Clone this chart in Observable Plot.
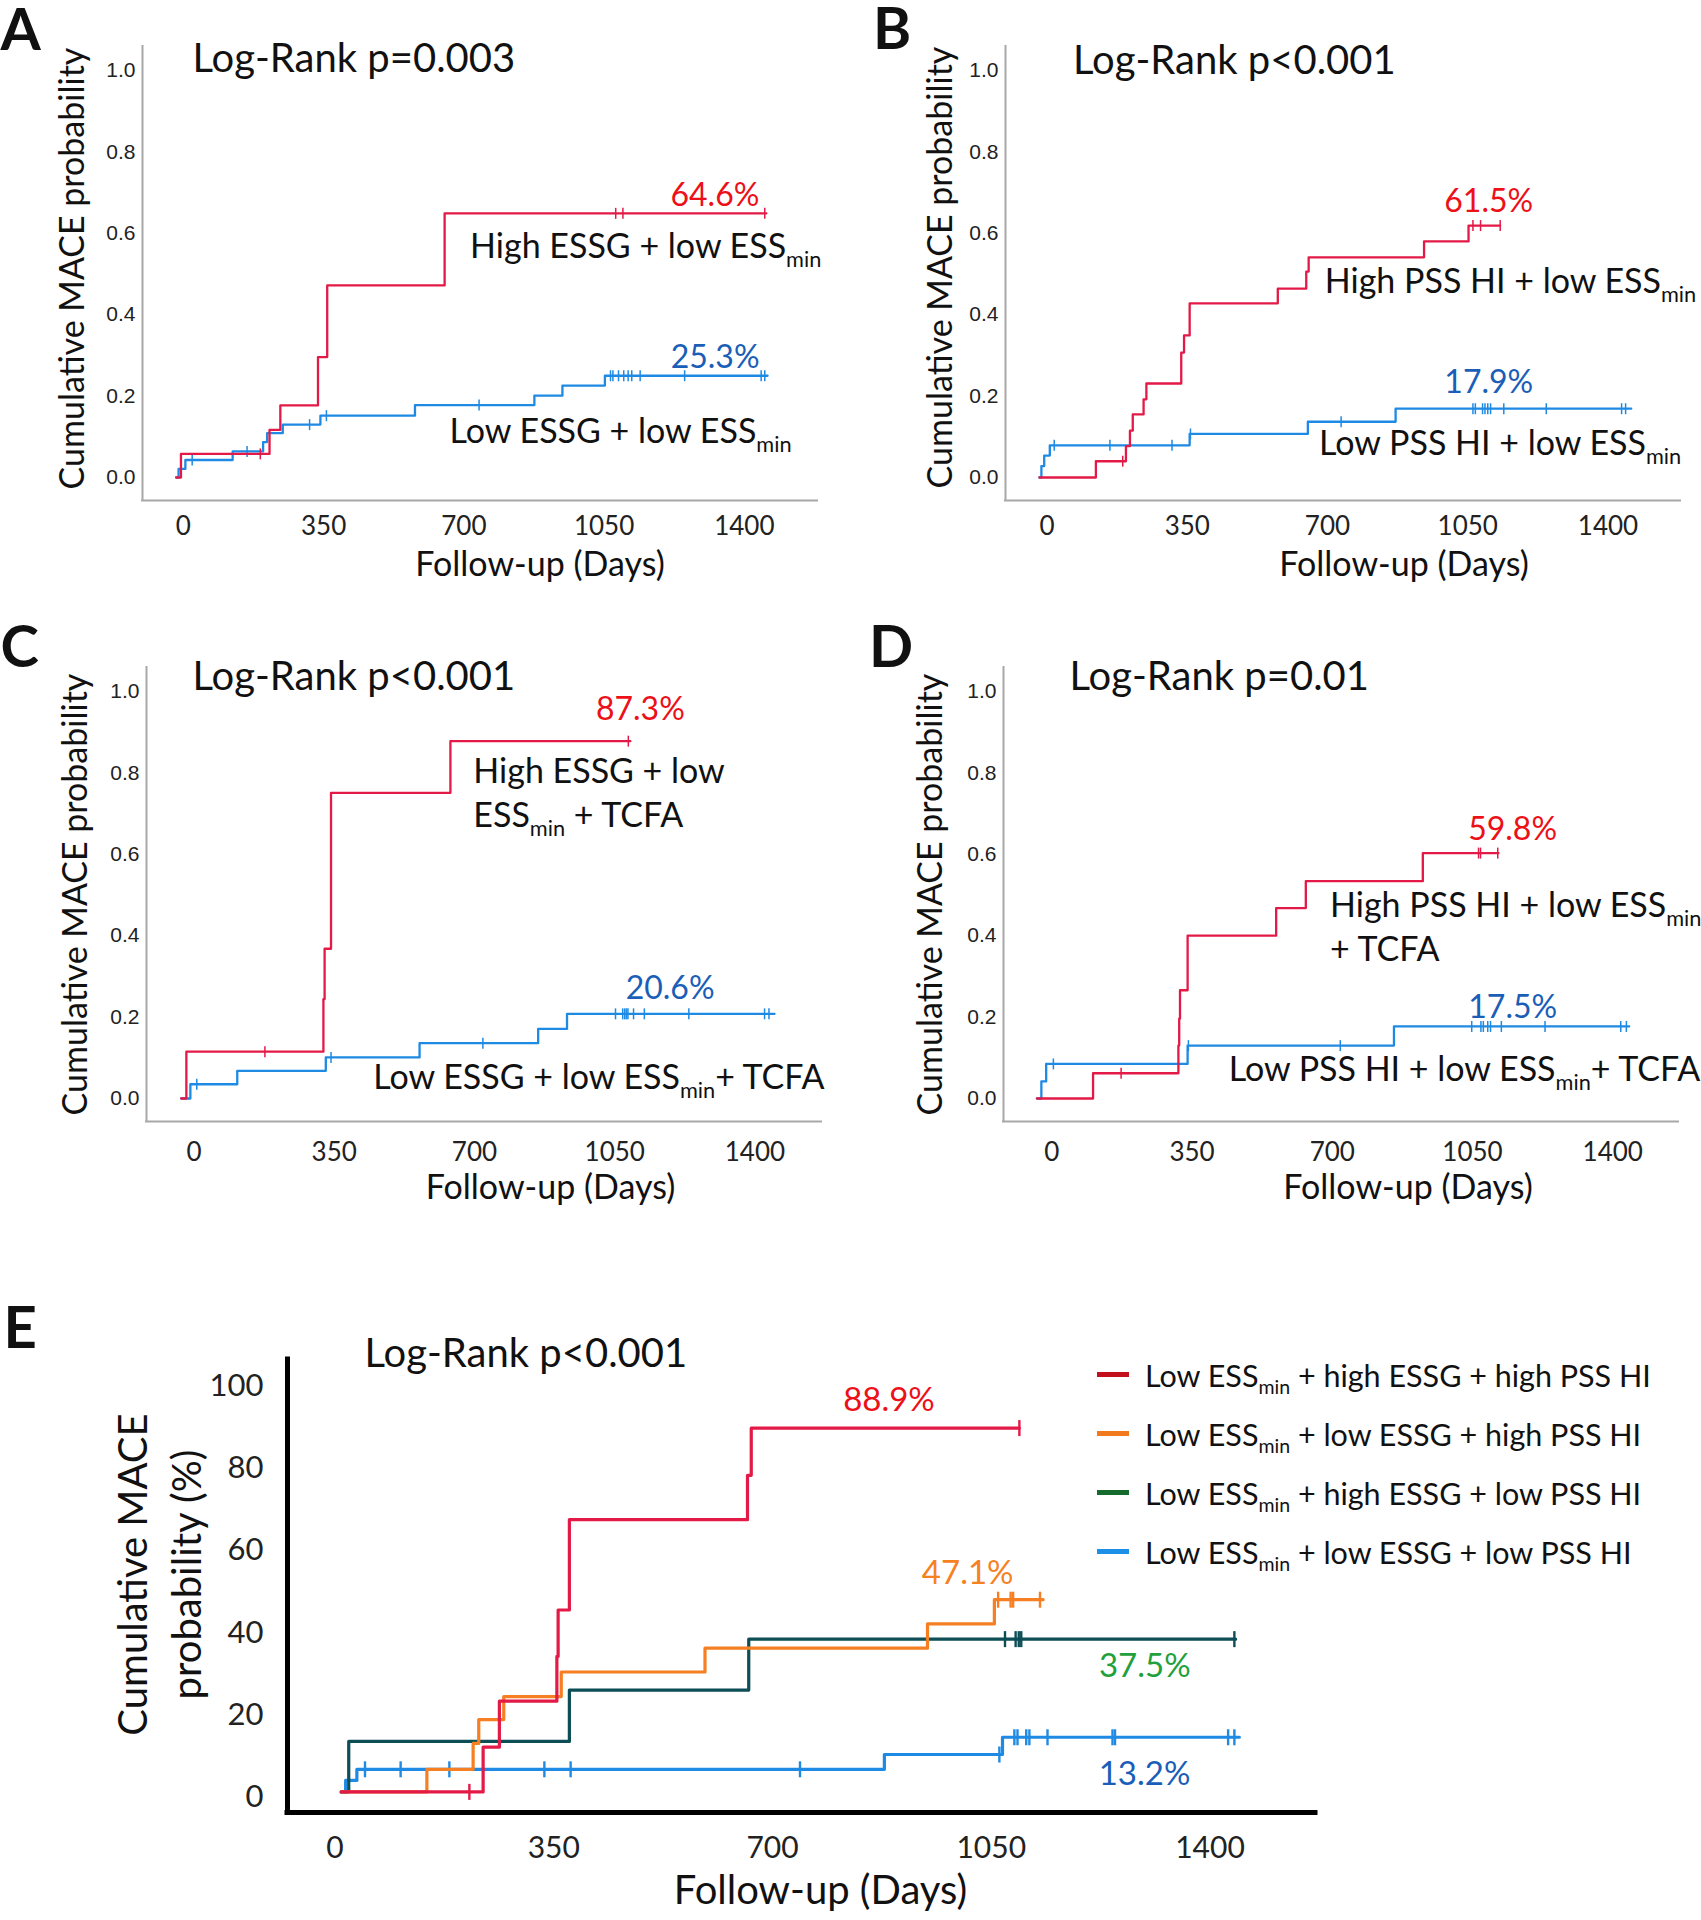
<!DOCTYPE html>
<html><head><meta charset="utf-8">
<script src="https://cdn.jsdelivr.net/npm/d3@7"></script>
<script src="https://cdn.jsdelivr.net/npm/@observablehq/plot@0.6"></script>
<style>
html,body{margin:0;padding:0;background:#fff;overflow:hidden}
#root{position:relative;width:1701px;height:1920px;font-family:Lato,sans-serif;color:#111}
.legend{position:absolute;left:1097px;top:1345px;font-family:Lato,sans-serif;font-size:30.5px;color:#111}
.legend .row{display:flex;align-items:center;height:59px;white-space:nowrap}
.legend .sw{width:32px;height:5px;margin-right:16px}
.legend .sub{font-size:0.64em;position:relative;top:0.38em}
</style></head><body><div id="root"></div>
<script>
// ---------- DATA ----------
const xTicksDays = [0, 350, 700, 1050, 1400];
const yTicksProb = [0, 0.2, 0.4, 0.6, 0.8, 1.0];
const yTicksPct = [0, 20, 40, 60, 80, 100];

// Panel A
const A_high_t = [-18, -6, 215, 242, 336, 359, 652, 1455];
const A_high_v = [0, 0.058, 0.117, 0.177, 0.296, 0.472, 0.649, 0.649];
const A_high_c = [192, 1079, 1097, 1451];
const A_low_t = [-18, -12, 5, 123, 199, 209, 248, 342, 578, 876, 946, 1052, 1458];
const A_low_v = [0, 0.021, 0.043, 0.064, 0.087, 0.109, 0.130, 0.152, 0.178, 0.201, 0.226, 0.250, 0.250];
const A_low_c = [22, 159, 315, 357, 738, 1066, 1072, 1086, 1099, 1110, 1119, 1140, 1251, 1442, 1451];

// Panel B
const B_high_t = [-19, 122, 197, 207, 214, 241, 248, 335, 342, 356, 576, 647, 653, 941, 1052, 1131];
const B_high_v = [0, 0.040, 0.077, 0.115, 0.155, 0.192, 0.231, 0.307, 0.349, 0.428, 0.464, 0.506, 0.541, 0.580, 0.619, 0.619];
const B_high_c = [189, 1063, 1082, 1131];
const B_low_t = [-19, -14, -7, 7, 356, 651, 870, 1458];
const B_low_v = [0, 0.028, 0.054, 0.079, 0.107, 0.137, 0.169, 0.169];
const B_low_c = [18, 157, 312, 358, 734, 1063, 1069, 1087, 1093, 1100, 1107, 1140, 1246, 1434, 1444];

// Panel C
const C_high_t = [-32, -19, 323, 326, 342, 640, 1089];
const C_high_v = [0, 0.115, 0.244, 0.368, 0.751, 0.878, 0.878];
const C_high_c = [177, 1084];
const C_low_t = [-32, -9, 108, 329, 563, 859, 931, 1449];
const C_low_v = [0, 0.035, 0.068, 0.101, 0.136, 0.171, 0.208, 0.208];
const C_low_c = [7, 342, 721, 1052, 1070, 1075, 1079, 1083, 1097, 1124, 1235, 1424, 1435];

// Panel D
const D_high_t = [-37, 103, 316, 318, 320, 339, 560, 634, 926, 1115];
const D_high_v = [0, 0.062, 0.13, 0.196, 0.266, 0.40, 0.468, 0.534, 0.603, 0.603];
const D_high_c = [173, 1065, 1070, 1113];
const D_low_t = [-37, -26, -14, 339, 854, 1441];
const D_low_v = [0, 0.042, 0.085, 0.130, 0.177, 0.177];
const D_low_c = [4, 341, 720, 1048, 1071, 1077, 1088, 1095, 1122, 1231, 1420, 1434];

// Panel E (percent)
const E_red_t = [10, 237, 263, 355, 357, 375, 660, 666, 1095];
const E_red_v = [0, 10.9, 22.1, 33.0, 44.3, 66.3, 77.1, 88.6, 88.6];
const E_red_c = [215, 1095];
const E_orange_t = [10, 147, 221, 230, 270, 362, 592, 948, 1055, 1133];
const E_orange_v = [0, 5.5, 11.8, 17.6, 23.2, 29.2, 35.0, 40.9, 46.8, 46.8];
const E_orange_c = [1061, 1081, 1085, 1128];
const E_teal_t = [10, 22, 375, 662, 1441];
const E_teal_v = [0, 12.3, 24.8, 37.2, 37.2];
const E_teal_c = [1072, 1089, 1094, 1098, 1439];
const E_blue_t = [10, 17, 35, 879, 1068, 1447];
const E_blue_v = [0, 2.8, 5.5, 9.1, 13.3, 13.3];
const E_blue_c = [48, 105, 183, 335, 377, 744, 1063, 1087, 1092, 1106, 1111, 1140, 1244, 1248, 1429, 1439];

const legendLabels = [
  "Low ESS_min + high ESSG + high PSS HI",
  "Low ESS_min + low ESSG + high PSS HI",
  "Low ESS_min + high ESSG + low PSS HI",
  "Low ESS_min + low ESSG + low PSS HI"
];
const legendColors = ["#c2101d", "#f27a1e", "#146b2d", "#1c8fe6"];

// ---------- HELPERS ----------
const RED = "#e31a47", BLUE = "#1e8ae3", ORANGE = "#f57f22", TEAL = "#0c4d56";
const RED_T = "#ec1018", BLUE_T = "#1a5eb8", ORANGE_T = "#f5821f", GREEN_T = "#22a03c";
const vbar = {draw(ctx, size) { const r = Math.sqrt(size / Math.PI); ctx.moveTo(0, -r); ctx.lineTo(0, r); }};
const pts = (t, v) => t.map((d, i) => ({x: d, y: v[i]}));
const stepAt = (t, v, d) => { let val = v[0]; for (let i = 0; i < t.length; i++) if (t[i] <= d) val = v[i]; return val; };
const cens = (t, v, c) => c.map(d => ({x: d, y: stepAt(t, v, d)}));

function addSubscripts(svg) {
  const ns = "http://www.w3.org/2000/svg";
  svg.querySelectorAll("text, tspan").forEach(el => {
    [...el.childNodes].forEach(node => {
      if (node.nodeType !== 3 || !node.nodeValue.includes("_min")) return;
      const parts = node.nodeValue.split("_min");
      const frag = document.createDocumentFragment();
      parts.forEach((part, i) => {
        if (part) frag.appendChild(document.createTextNode(part));
        if (i < parts.length - 1) {
          const s = document.createElementNS(ns, "tspan");
          s.setAttribute("font-size", "0.64em");
          s.setAttribute("baseline-shift", "-0.42em");
          s.textContent = "min";
          frag.appendChild(s);
        }
      });
      node.replaceWith(frag);
    });
  });
}

function kmPanel(p) {
  const marks = [
    Plot.ruleX([p.xDomain[0]], {stroke: p.axisColor, strokeWidth: p.axisWidth, strokeLinecap: "square"}),
    Plot.ruleY([p.yDomain[0]], {stroke: p.axisColor, strokeWidth: p.axisWidth, strokeLinecap: "square"}),
    Plot.axisY(p.yTicks, {tickSize: 0, tickPadding: p.yPad, tickFormat: p.yFormat, fontSize: p.yFont, fontFamily: p.yFamily, dy: p.yTickDy || 0, label: null}),
    Plot.axisX(xTicksDays, {tickSize: 0, tickPadding: p.xPad, tickFormat: d3.format("d"), fontSize: p.xFont, fontFamily: "Lato", label: null})
  ];
  for (const s of p.series) {
    marks.push(Plot.line(pts(s.t, s.v), {x: "x", y: "y", curve: "step-after", stroke: s.color, strokeWidth: p.lineWidth}));
    marks.push(Plot.dot(cens(s.t, s.v, s.c), {x: "x", y: "y", symbol: vbar, r: p.tickR, stroke: s.color, fill: "none", strokeWidth: p.tickW}));
  }
  for (const l of p.labels) {
    const s = p.series[l.s];
    const end = {x: s.t[s.t.length - 1], y: s.v[s.v.length - 1]};
    marks.push(Plot.text([end], {x: "x", y: "y", text: () => l.text, fill: l.fill || "#111", fontSize: l.size,
      fontFamily: "Lato", textAnchor: l.anchor, dx: l.dx, dy: l.dy, lineHeight: l.lh || 1, lineAnchor: "middle"}));
  }
  for (const f of p.frameTexts) {
    marks.push(Plot.text([f.text], {text: d => d, frameAnchor: f.frame, dx: f.dx, dy: f.dy, fontSize: f.size,
      fontWeight: f.weight || "normal", fontFamily: "Lato", rotate: f.rotate || 0, textAnchor: f.anchor || "middle",
      lineAnchor: f.line || "middle", lineHeight: f.lh || 1, fill: "#111"}));
  }
  const svg = Plot.plot({
    width: p.width, height: p.height,
    marginLeft: p.m[0], marginRight: p.m[1], marginTop: p.m[2], marginBottom: p.m[3],
    x: {domain: p.xDomain}, y: {domain: p.yDomain},
    style: {overflow: "visible", background: "transparent", maxWidth: "none", color: "#222", fontFamily: "Lato"},
    marks
  });
  addSubscripts(svg);
  svg.style.position = "absolute";
  svg.style.left = p.left + "px";
  svg.style.top = p.top + "px";
  document.getElementById("root").appendChild(svg);
}

const smallCommon = {
  width: 838, height: 590, m: [142, 21, 46, 90], yDomain: [-0.0565, 1.059],
  yTicks: yTicksProb, yFormat: d3.format(".1f"), yFont: 21, yFamily: "Liberation Sans", yPad: 7,
  xFont: 26, axisColor: "#a8a8a8", axisWidth: 2, lineWidth: 2.3, tickR: 5.5, tickW: 1.5
};

const titleSize = 40, axisTitleSize = 34, labSize = 34, pctSize = 32, letterSize = 58;

function frameSet(letter, ldx, ldy, title, tdx, tdy, ydx, ydy, xdx, xdy) {
  return [
    {text: letter, frame: "top-left", dx: ldx, dy: ldy, size: letterSize, weight: 700, anchor: "start", line: "bottom"},
    {text: title, frame: "top-left", dx: tdx, dy: tdy, size: titleSize, anchor: "start", line: "bottom"},
    {text: "Cumulative MACE probability", frame: "left", dx: ydx, dy: ydy, size: axisTitleSize, rotate: -90},
    {text: "Follow-up (Days)", frame: "bottom", dx: xdx, dy: xdy, size: axisTitleSize, line: "bottom"}
  ];
}

// Panel A
kmPanel({...smallCommon, left: 0, top: 0, xDomain: [-102, 1582.6], xPad: 16,
  series: [
    {t: A_low_t, v: A_low_v, c: A_low_c, color: BLUE},
    {t: A_high_t, v: A_high_v, c: A_high_c, color: RED}
  ],
  labels: [
    {s: 1, text: "64.6%", fill: RED_T, size: pctSize, anchor: "end", dx: -7, dy: -18},
    {s: 1, text: "High ESSG + low ESS_min", size: labSize, anchor: "end", dx: 55, dy: 34},
    {s: 0, text: "25.3%", fill: BLUE_T, size: pctSize, anchor: "end", dx: -8, dy: -18},
    {s: 0, text: "Low ESSG + low ESS_min", size: labSize, anchor: "end", dx: 24, dy: 56}
  ],
  frameTexts: frameSet("A", -142, 3, "Log-Rank p=0.003", 50, 25.5, -69, -5, 60, 75)
});

// Panel B
kmPanel({...smallCommon, left: 862.5, top: 0, xDomain: [-103.6, 1581], xPad: 16,
  series: [
    {t: B_low_t, v: B_low_v, c: B_low_c, color: BLUE},
    {t: B_high_t, v: B_high_v, c: B_high_c, color: RED}
  ],
  labels: [
    {s: 1, text: "61.5%", fill: RED_T, size: pctSize, anchor: "end", dx: 33, dy: -24},
    {s: 1, text: "High PSS HI + low ESS_min", size: labSize, anchor: "end", dx: 196, dy: 57},
    {s: 0, text: "17.9%", fill: BLUE_T, size: pctSize, anchor: "end", dx: -98, dy: -26},
    {s: 0, text: "Low PSS HI + low ESS_min", size: labSize, anchor: "end", dx: 50, dy: 35}
  ],
  frameTexts: frameSet("B", -132.5, 2, "Log-Rank p<0.001", 67.5, 27, -64.5, -6, 61, 75)
});

// Panel C
kmPanel({...smallCommon, left: 4, top: 621, xDomain: [-118.5, 1566.1], xPad: 21,
  series: [
    {t: C_low_t, v: C_low_v, c: C_low_c, color: BLUE},
    {t: C_high_t, v: C_high_v, c: C_high_c, color: RED}
  ],
  labels: [
    {s: 1, text: "87.3%", fill: RED_T, size: pctSize, anchor: "middle", dx: 10, dy: -31},
    {s: 1, text: "High ESSG + low\nESS_min + TCFA", size: labSize, anchor: "start", dx: -157, dy: 50, lh: 1.3},
    {s: 0, text: "20.6%", fill: BLUE_T, size: pctSize, anchor: "end", dx: -60, dy: -25},
    {s: 0, text: "Low ESSG + low ESS_min+ TCFA", size: labSize, anchor: "end", dx: 50, dy: 64}
  ],
  frameTexts: frameSet("C", -146, -1, "Log-Rank p<0.001", 46, 22, -70, 0, 66.5, 77)
});

// Panel D
kmPanel({...smallCommon, left: 861.4, top: 621, xDomain: [-120.5, 1564.1], xPad: 21,
  series: [
    {t: D_low_t, v: D_low_v, c: D_low_c, color: BLUE},
    {t: D_high_t, v: D_high_v, c: D_high_c, color: RED}
  ],
  labels: [
    {s: 1, text: "59.8%", fill: RED_T, size: pctSize, anchor: "end", dx: 58.5, dy: -23},
    {s: 1, text: "High PSS HI + low ESS_min\n+ TCFA", size: labSize, anchor: "start", dx: -168.5, dy: 72, lh: 1.3},
    {s: 0, text: "17.5%", fill: BLUE_T, size: pctSize, anchor: "end", dx: -72, dy: -19},
    {s: 0, text: "Low PSS HI + low ESS_min+ TCFA", size: labSize, anchor: "end", dx: 71, dy: 44}
  ],
  frameTexts: frameSet("D", -134.4, -1, "Log-Rank p=0.01", 66, 22, -72, 0, 67, 77)
});

// Panel E
kmPanel({
  left: 0, top: 1290, width: 1340, height: 630, m: [287, 25, 69, 108],
  xDomain: [-76, 1568.8], yDomain: [-5.02, 105.3],
  yTicks: yTicksPct, yFormat: d3.format("d"), yFont: 31, yFamily: "Lato", yPad: 24, yTickDy: 5,
  xFont: 30, xPad: 24, axisColor: "#000", axisWidth: 5, lineWidth: 3.2, tickR: 8, tickW: 2.4,
  series: [
    {t: E_blue_t, v: E_blue_v, c: E_blue_c, color: BLUE},
    {t: E_teal_t, v: E_teal_v, c: E_teal_c, color: TEAL},
    {t: E_orange_t, v: E_orange_v, c: E_orange_c, color: ORANGE},
    {t: E_red_t, v: E_red_v, c: E_red_c, color: RED}
  ],
  labels: [
    {s: 3, text: "88.9%", fill: RED_T, size: 33, anchor: "middle", dx: -130.4, dy: -27.6},
    {s: 2, text: "47.1%", fill: ORANGE_T, size: 33, anchor: "end", dx: -29.6, dy: -26},
    {s: 1, text: "37.5%", fill: GREEN_T, size: 33, anchor: "end", dx: -45, dy: 27},
    {s: 0, text: "13.2%", fill: BLUE_T, size: 33, anchor: "end", dx: -49, dy: 37}
  ],
  frameTexts: [
    {text: "E", frame: "top-left", dx: -284, dy: -12, size: letterSize, weight: 700, anchor: "start", line: "bottom"},
    {text: "Log-Rank p<0.001", frame: "top-left", dx: 77, dy: 7, size: titleSize, anchor: "start", line: "bottom"},
    {text: "Cumulative MACE\nprobability (%)", frame: "left", dx: -131, dy: -11.5, size: 40, rotate: -90, lh: 1.35},
    {text: "Follow-up (Days)", frame: "bottom", dx: 19, dy: 91, size: 40, line: "bottom"}
  ]
});

// Legend for panel E
const legend = document.createElement("div");
legend.className = "legend";
legendLabels.forEach((lab, i) => {
  const row = document.createElement("div");
  row.className = "row";
  const sw = document.createElement("div");
  sw.className = "sw";
  sw.style.background = legendColors[i];
  const tx = document.createElement("span");
  tx.innerHTML = lab.replace("_min", '<span class="sub">min</span>');
  row.appendChild(sw); row.appendChild(tx);
  legend.appendChild(row);
});
document.getElementById("root").appendChild(legend);
</script></body></html>
